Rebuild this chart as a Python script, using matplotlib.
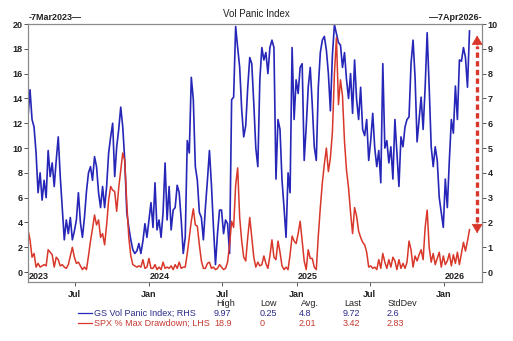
import pandas as pd
import numpy as np
import matplotlib
matplotlib.use('Agg')
import matplotlib.pyplot as plt
import matplotlib.dates as mdates
from matplotlib.lines import Line2D

plt.rcParams['font.family'] = ['Liberation Sans', 'DejaVu Sans']

# GS Vol Panic Index (RHS, 0-10), read every 5 days from 7 Mar 2023
vol_panic = [
    6.25, 7.35, 6.15, 5.85, 4.8, 3.2, 4.0, 2.9, 3.7, 3.0,
    4.9, 3.85, 4.4, 3.45, 4.5, 5.45, 3.85, 2.6, 1.3, 2.1,
    1.55, 2.2, 1.3, 1.65, 2.1, 3.2, 2.0, 1.4, 2.2, 3.25,
    4.0, 4.25, 3.7, 4.65, 4.25, 3.2, 2.6, 3.45, 2.6, 3.45,
    4.8, 5.45, 6.0, 3.85, 5.05, 5.75, 6.65, 5.85, 4.5, 2.4,
    1.8, 1.3, 0.9, 0.75, 0.85, 1.15, 0.75, 1.25, 1.95, 1.4,
    2.1, 2.8, 1.8, 3.6, 1.7, 2.1, 1.4, 2.4, 4.4, 2.1,
    3.45, 1.7, 2.5, 2.6, 3.5, 3.2, 2.1, 0.75, 1.4, 5.3,
    4.8, 7.85, 6.95, 4.25, 3.7, 2.4, 2.2, 1.3, 2.6, 3.7,
    4.9, 3.5, 1.8, 0.3, 1.55, 2.5, 2.5, 1.55, 2.1, 1.95,
    0.75, 6.95, 7.05, 9.9, 9.05, 8.25, 6.55, 5.45, 5.9, 7.45,
    8.65, 8.4, 6.8, 5.0, 4.25, 7.75, 9.05, 8.55, 8.85, 8.0,
    9.05, 9.35, 9.05, 3.75, 6.15, 5.75, 3.7, 2.6, 1.4, 4.0,
    3.2, 9.05, 6.15, 7.75, 7.2, 8.25, 8.4, 4.5, 5.85, 7.45,
    8.25, 6.75, 5.05, 4.5, 7.45, 8.85, 9.35, 9.5, 8.95, 8.0,
    6.5, 8.75, 9.97, 9.6, 9.25, 9.15, 8.25, 8.85, 7.75, 7.0,
    8.0, 6.4, 8.55, 6.95, 6.15, 7.45, 5.75, 5.5, 6.15, 4.5,
    5.3, 6.4, 5.0, 4.25, 4.9, 3.6, 8.4, 5.0, 5.3, 4.4,
    5.05, 3.75, 6.15, 4.8, 3.45, 5.45, 5.05, 5.85, 6.15, 6.25,
    8.4, 9.35, 7.85, 5.25, 6.15, 7.05, 5.75, 7.45, 9.65, 7.45,
    5.05, 4.25, 5.05, 4.5, 3.0, 2.4, 1.8, 3.75, 2.6, 4.5,
    6.15, 5.6, 7.5, 6.15, 8.55, 8.5, 9.05, 8.65, 7.45, 9.72,
]

# SPX % max drawdown (LHS, 0-20), same dates
spx_drawdown = [
    3.4, 2.6, 1.2, 1.5, 0.4, 0.7, 0.4, 0.5, 0.6, 0.5,
    1.8, 1.6, 1.4, 0.4, 1.2, 1.0, 0.5, 0.6, 0.4, 0.3,
    0.6, 1.3, 2.0, 1.2, 0.7, 0.8, 0.5, 0.2, 0.4, 0.2,
    1.3, 2.5, 3.5, 4.6, 3.8, 4.2, 2.8, 3.1, 2.2, 3.8,
    5.8, 6.9, 6.6, 6.5, 4.9, 6.8, 8.2, 9.6, 9.0, 5.5,
    2.8, 1.3, 0.6, 0.5, 0.4, 0.5, 0.4, 1.0, 0.3, 0.4,
    1.1, 0.3, 0.3, 0.6, 0.2, 0.4, 0.2, 0.8, 0.3, 0.4,
    0.3, 0.5, 0.2, 0.6, 0.3, 0.8, 0.3, 0.4, 0.4, 1.5,
    2.8, 4.1, 5.1, 3.8, 3.7, 2.2, 0.9, 0.3, 0.3, 0.7,
    0.8, 0.3, 0.4, 0.2, 0.3, 0.6, 0.4, 0.2, 0.3, 0.8,
    2.2, 4.1, 3.6, 7.0, 8.4, 4.4, 2.5, 1.2, 0.9, 2.8,
    4.4, 2.8, 1.2, 0.4, 0.8, 0.5, 0.6, 1.3, 0.7, 0.3,
    1.3, 2.6, 1.2, 1.0, 2.5, 1.6, 0.5, 0.2, 0.4, 0.2,
    1.4, 2.9, 2.5, 2.3, 3.1, 4.1, 2.5, 0.9, 0.2, 1.8,
    1.1, 1.1, 0.4, 0.2, 2.9, 5.2, 7.2, 8.7, 10.0, 8.1,
    9.2, 11.3, 16.0, 18.9, 13.5, 15.5, 14.2, 10.5, 8.2, 6.8,
    4.8, 3.1, 5.2, 4.5, 3.3, 2.8, 2.4, 2.2, 1.6, 0.4,
    0.5, 0.3, 0.4, 0.2, 1.0, 0.3, 1.5, 0.8, 0.3, 1.0,
    0.4, 1.2, 0.9, 0.2, 1.0, 0.3, 0.7, 0.3, 0.8, 2.5,
    1.8, 0.4, 1.3, 0.9, 1.4, 1.8, 1.0, 3.6, 5.0, 2.0,
    0.8, 1.5, 0.6, 1.1, 1.6, 0.4, 1.3, 0.6, 0.9, 1.5,
    0.5, 1.4, 0.7, 1.6, 0.6, 1.5, 2.4, 1.7, 2.5, 3.42,
]

dates = pd.date_range('2023-03-07', periods=len(vol_panic), freq='5D')

series_labels = ['GS Vol Panic Index; RHS', 'SPX % Max Drawdown; LHS']
stat_headers = ['High', 'Low', 'Avg.', 'Last', 'StdDev']
stat_values = [['9.97', '0.25', '4.8', '9.72', '2.6'],
               ['18.9', '0', '2.01', '3.42', '2.83']]

blue = '#2626b8'
red = '#d8372a'
text_dark = '#222222'
spine_grey = '#8a8a8a'

W, H = 513, 341
fig = plt.figure(figsize=(W / 100, H / 100), dpi=100)
ax = fig.add_axes([28 / W, 1 - 282 / H, 454 / W, 258 / H])
ax2 = ax.twinx()

ax.plot(dates, spx_drawdown, color=red, lw=1.1)
ax2.plot(dates, vol_panic, color=blue, lw=1.2)
ax.set_zorder(ax2.get_zorder() + 1)
ax.patch.set_visible(False)

ax.set_xlim(pd.Timestamp('2023-03-07'), pd.Timestamp('2026-04-06'))
ax.set_ylim(-0.8, 20)
ax2.set_ylim(-0.4, 10)
ax.set_yticks(range(0, 21, 2))
ax2.set_yticks(range(0, 11))

ax.xaxis.set_major_locator(mdates.MonthLocator(bymonth=[1, 7]))
ax.xaxis.set_major_formatter(mdates.DateFormatter('%b'))

for a in (ax, ax2):
    for s in a.spines.values():
        s.set_color(spine_grey)
        s.set_linewidth(0.8)
    a.tick_params(length=3, width=0.7, color='#555555', labelsize=6.5,
                  labelcolor=text_dark, pad=1)
ax.tick_params(axis='x', pad=3)
for lab in ax.get_xticklabels() + ax.get_yticklabels() + ax2.get_yticklabels():
    lab.set_fontweight('bold')

# year labels inside the plot
for yr, d in [('2023', '2023-03-08'), ('2024', '2024-01-03'),
              ('2025', '2025-01-03'), ('2026', '2026-01-03')]:
    ax.text(pd.Timestamp(d), 0.005, yr, transform=ax.get_xaxis_transform(),
            fontsize=6.5, fontweight='bold', color=text_dark, ha='left', va='bottom')

# arrow on the right
arrow_date = pd.Timestamp('2026-03-25')
ax.plot([arrow_date, arrow_date], [4.0, 18.2], color=red, lw=2.4,
        ls=(0, (1.6, 1.0)), solid_capstyle='butt')
ax.annotate('', xy=(arrow_date, 19.3), xytext=(arrow_date, 18.0),
            arrowprops=dict(arrowstyle='-|>,head_width=0.35,head_length=0.6',
                            color=red, lw=0.5))
ax.annotate('', xy=(arrow_date, 2.9), xytext=(arrow_date, 4.2),
            arrowprops=dict(arrowstyle='-|>,head_width=0.35,head_length=0.6',
                            color=red, lw=0.5))

# titles and date stamps
fig.text(256 / W, 1 - 14 / H, 'Vol Panic Index', ha='center', va='center',
         fontsize=7, color=text_dark)
fig.text(29 / W, 1 - 18 / H, '-7Mar2023\u2014', ha='left', va='center',
         fontsize=6.5, fontweight='bold', color=text_dark)
fig.text(482 / W, 1 - 18 / H, '\u20147Apr2026-', ha='right', va='center',
         fontsize=6.5, fontweight='bold', color=text_dark)

# stats table below
head_x = [216, 260, 301, 344, 388]
val_x = [214, 260, 299, 343, 387]
for h, x in zip(stat_headers, head_x):
    fig.text(x / W, 1 - 304 / H, h, fontsize=6.5, color=text_dark, va='center')
row_y = [313, 323]
row_colors = ['#2a2a8a', '#c43a30']
line_colors = [blue, red]
for label, vals, y, tc, lc in zip(series_labels, stat_values, row_y, row_colors, line_colors):
    fig.add_artist(Line2D([78 / W, 92 / W], [1 - y / H, 1 - y / H], color=lc, lw=0.9))
    fig.text(94 / W, 1 - y / H, label, fontsize=6.5, color=tc, va='center')
    for v, x in zip(vals, val_x):
        fig.text(x / W, 1 - y / H, v, fontsize=6.5, color=tc, va='center')

fig.savefig('out.png', dpi=100)
